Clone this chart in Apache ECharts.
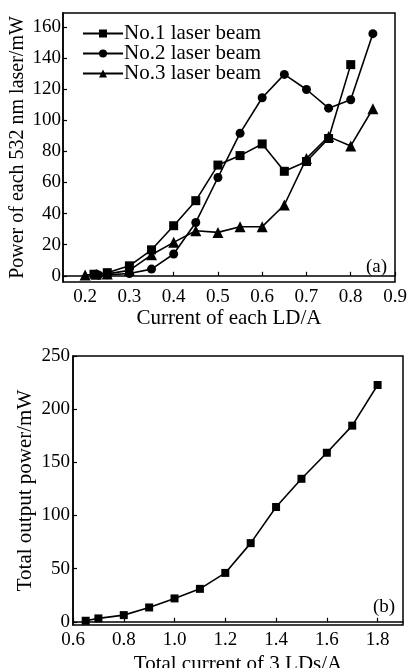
<!DOCTYPE html>
<html><head><meta charset="utf-8">
<script src="https://cdn.jsdelivr.net/npm/echarts@6/dist/echarts.min.js"></script>
<style>html,body{margin:0;padding:0;background:#fff}#c{width:411px;height:668px}</style>
</head><body><div id="c"></div>
<script>
// Panel (a): current of each LD (A) vs power of each 532 nm laser (mW)
const beam1 = [[0.22,1],[0.25,2],[0.3,6.4],[0.35,16.7],[0.4,32.2],[0.45,48.3],[0.5,71.2],[0.55,77.3],[0.6,84.8],[0.65,67.2],[0.7,73.5],[0.75,88.3],[0.8,135.8]];
const beam2 = [[0.23,0.5],[0.25,0.6],[0.3,1.5],[0.35,4.3],[0.4,14],[0.45,34.3],[0.5,63.2],[0.55,91.7],[0.6,114.5],[0.65,129.5],[0.7,119.8],[0.75,107.8],[0.8,113.2],[0.85,155.7]];
const beam3 = [[0.2,0.5],[0.225,1],[0.25,1.2],[0.3,3.5],[0.35,13.5],[0.4,21.5],[0.45,29],[0.5,27.9],[0.55,31.5],[0.6,31.6],[0.65,45.5],[0.7,75.5],[0.75,89.5],[0.8,83.5],[0.85,107.4]];
const seriesNames = ['No.1 laser beam','No.2 laser beam','No.3 laser beam'];
const xTicksA = [0.2,0.3,0.4,0.5,0.6,0.7,0.8,0.9];
const yTicksA = [0,20,40,60,80,100,120,140,160];
// Panel (b): total current of 3 LDs (A) vs total output power (mW)
const totalCurrent = [0.65,0.7,0.8,0.9,1.0,1.1,1.2,1.3,1.4,1.5,1.6,1.7,1.8];
const totalPower = [1,3.2,6.3,13.5,22,31,46,74,108,134.5,159,184.5,222.7];
const xTicksB = [0.6,0.8,1.0,1.2,1.4,1.6,1.8];
const yTicksB = [0,50,100,150,200,250];

const FONT = "'Liberation Serif','Times New Roman',serif";
const chart = echarts.init(document.getElementById('c'));
const axisLine = {show:true, lineStyle:{color:'#000', width:1.5}};
const tick = vals => ({show:true, inside:true, length:4, customValues:vals, lineStyle:{color:'#000', width:1.2}});
const lbl = (vals, margin, fmt) => ({customValues:vals, color:'#000', fontFamily:FONT, fontSize:19, margin:margin, formatter:fmt});
const sym = ['rect','circle','triangle'];
const symSize = [9,9,11];
const dataA = [beam1, beam2, beam3];
const nameStyle = size => ({fontFamily:FONT, fontSize:size, color:'#000'});

chart.setOption({
  animation:false,
  textStyle:{fontFamily:FONT, color:'#000'},
  grid:[
    {left:63, top:13, width:332, height:269, show:true, borderColor:'#000', borderWidth:1.5, containLabel:false, outerBoundsMode:'none'},
    {left:73, top:356, width:330, height:269, show:true, borderColor:'#000', borderWidth:1.5, containLabel:false, outerBoundsMode:'none'}
  ],
  legend:{
    data:seriesNames, orient:'vertical', left:77, top:18, itemGap:-1,
    itemWidth:40, itemHeight:10,
    textStyle:{fontFamily:FONT, fontSize:21, color:'#000', padding:[0,0,0,-4]}
  },
  xAxis:[
    {type:'value', gridIndex:0, min:0.15, max:0.9, axisLine:axisLine, axisTick:tick(xTicksA),
     axisLabel:lbl(xTicksA, 6, v=>v.toFixed(1)), splitLine:{show:false},
     name:'Current of each LD/A', nameLocation:'middle', nameGap:26,
     nameTextStyle:nameStyle(21)},
    {type:'value', gridIndex:1, min:0.6, max:1.9, axisLine:axisLine, axisTick:tick(xTicksB),
     axisLabel:lbl(xTicksB, 6, v=>v.toFixed(1)), splitLine:{show:false},
     name:'Total current of 3 LDs/A', nameLocation:'middle', nameGap:29,
     nameTextStyle:nameStyle(21)}
  ],
  yAxis:[
    {type:'value', gridIndex:0, min:-4, max:169, axisLine:axisLine, axisTick:tick(yTicksA),
     axisLabel:lbl(yTicksA, 2, v=>String(v)), splitLine:{show:false},
     name:'Power of each 532 nm laser/mW', nameLocation:'middle', nameGap:35, nameMoveOverlap:false,
     nameTextStyle:nameStyle(20)},
    {type:'value', gridIndex:1, min:-3, max:250, axisLine:axisLine, axisTick:tick(yTicksB),
     axisLabel:lbl(yTicksB, 3, v=>String(v)), splitLine:{show:false},
     name:'Total output power/mW', nameLocation:'middle', nameGap:37, nameMoveOverlap:false,
     nameTextStyle:nameStyle(21)}
  ],
  graphic:[
    {type:'text', left:366, top:258, style:{text:'(a)', font:"19px 'Liberation Serif',serif", fill:'#000'}},
    {type:'text', left:373, top:598, style:{text:'(b)', font:"19px 'Liberation Serif',serif", fill:'#000'}}
  ],
  series:[
    ...dataA.map((d,i)=>({
      type:'line', name:seriesNames[i], xAxisIndex:0, yAxisIndex:0, data:d,
      symbol:sym[i], symbolSize:symSize[i], showAllSymbol:true,
      lineStyle:{color:'#000', width:1.6}, itemStyle:{color:'#000'}
    })),
    {type:'line', name:'Total', xAxisIndex:1, yAxisIndex:1,
     data:totalCurrent.map((c,i)=>[c,totalPower[i]]),
     symbol:'rect', symbolSize:8, showAllSymbol:true,
     lineStyle:{color:'#000', width:1.6}, itemStyle:{color:'#000'}}
  ]
});
</script></body></html>
